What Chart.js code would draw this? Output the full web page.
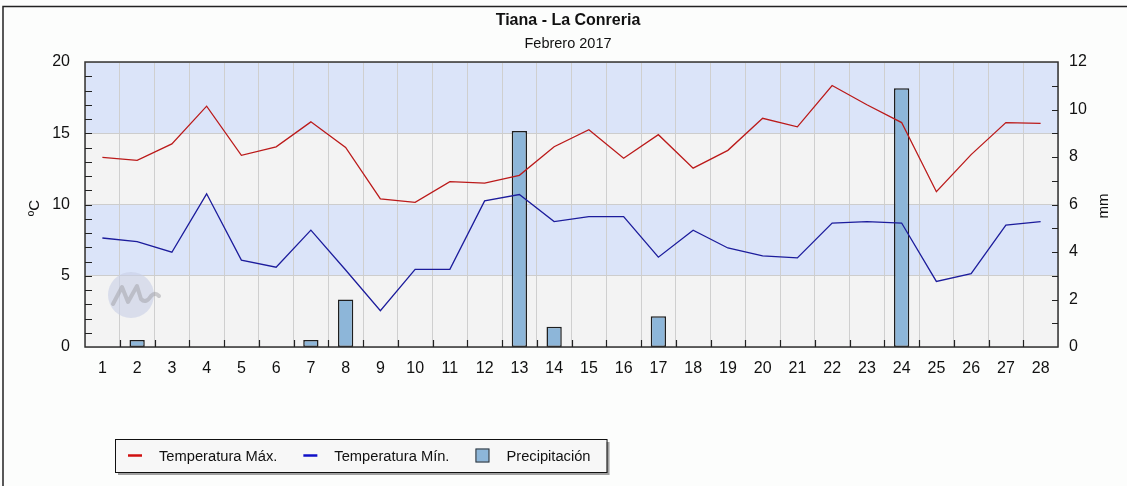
<!DOCTYPE html>
<html>
<head>
<meta charset="utf-8">
<title>Tiana - La Conreria</title>
<script src="https://cdn.jsdelivr.net/npm/chart.js@4/dist/chart.umd.min.js"></script>
<style>
	html, body { margin: 0; padding: 0; background: #fcfdfc; }
	canvas { display: block; }
</style>
</head>
<body>
<canvas id="meteo-chart" width="1127" height="486"></canvas>
<script>
const days = ['1', '2', '3', '4', '5', '6', '7', '8', '9', '10', '11', '12', '13', '14',
	'15', '16', '17', '18', '19', '20', '21', '22', '23', '24', '25', '26', '27', '28'];

const tempMax = [13.3, 13.1, 14.25, 16.9, 13.45, 14.05, 15.8, 14.0, 10.4, 10.15, 11.6, 11.5, 12.05, 14.05,
	15.25, 13.25, 14.9, 12.55, 13.8, 16.05, 15.45, 18.35, 17.0, 15.75, 10.9, 13.5, 15.75, 15.7];

const tempMin = [7.65, 7.4, 6.65, 10.75, 6.1, 5.6, 8.2, 5.4, 2.55, 5.45, 5.45, 10.25, 10.7, 8.8,
	9.15, 9.15, 6.3, 8.2, 6.95, 6.4, 6.25, 8.7, 8.8, 8.7, 4.6, 5.15, 8.55, 8.8];

// null = no rain that day
const precip = [null, 0.3, null, null, null, null, 0.3, 2.0, null, null, null, null, 9.1, 0.85,
	null, null, 1.3, null, null, null, null, null, null, 10.9, null, null, null, null];

const tempTicks = [0, 5, 10, 15, 20];
const rainTicks = [0, 2, 4, 6, 8, 10, 12];

const chartTitle = 'Tiana - La Conreria';
const chartSubtitle = 'Febrero 2017';

const FONT = '"Liberation Sans", Arial, sans-serif';
const BAND_BLUE = '#dbe4f9';
const BAND_GREY = '#f3f3f3';

const decorPlugin = {
	id: 'decor',

	beforeDraw: function (chart) {
		const ctx = chart.ctx;
		const area = chart.chartArea;
		const y = chart.scales.y;

		ctx.save();
		ctx.fillStyle = '#fcfdfc';
		ctx.fillRect(0, 0, chart.width, chart.height);

		// alternating bands between the major temperature ticks
		for (let i = 0; i < tempTicks.length - 1; i++) {
			const top = y.getPixelForValue(tempTicks[i + 1]);
			const bottom = y.getPixelForValue(tempTicks[i]);
			ctx.fillStyle = (i % 2 === 0) ? BAND_GREY : BAND_BLUE;
			ctx.fillRect(area.left, top, area.right - area.left, bottom - top);
		}
		ctx.restore();
	},

	beforeDatasetsDraw: function (chart) {
		// faint logo watermark
		const ctx = chart.ctx;
		const area = chart.chartArea;
		const cx = area.left + 46;
		const cy = chart.scales.y.getPixelForValue(3.65);

		ctx.save();
		ctx.fillStyle = 'rgba(200, 207, 230, 0.6)';
		ctx.beginPath();
		ctx.arc(cx, cy, 23, 0, Math.PI * 2);
		ctx.fill();

		ctx.strokeStyle = 'rgba(160, 160, 165, 0.5)';
		ctx.lineWidth = 4;
		ctx.lineJoin = 'round';
		ctx.lineCap = 'round';
		ctx.beginPath();
		ctx.moveTo(cx - 18, cy + 9);
		ctx.lineTo(cx - 9, cy - 8);
		ctx.lineTo(cx - 3, cy + 7);
		ctx.lineTo(cx + 6, cy - 9);
		ctx.lineTo(cx + 10, cy + 4);
		ctx.quadraticCurveTo(cx + 15, cy + 9, cx + 20, cy + 1);
		ctx.quadraticCurveTo(cx + 24, cy - 3, cx + 28, cy + 1);
		ctx.stroke();
		ctx.restore();
	},

	afterDraw: function (chart) {
		const ctx = chart.ctx;
		const area = chart.chartArea;
		const x = chart.scales.x;
		const y = chart.scales.y;
		const y1 = chart.scales.y1;

		ctx.save();

		// plot frame
		ctx.strokeStyle = '#333';
		ctx.lineWidth = 1.5;
		ctx.strokeRect(area.left, area.top, area.right - area.left, area.bottom - area.top);

		// inward tick marks
		ctx.lineWidth = 1.2;
		ctx.strokeStyle = '#222';
		ctx.beginPath();
		for (let i = 1; i < days.length; i++) {
			const px = Math.round((x.getPixelForValue(i - 1) + x.getPixelForValue(i)) / 2) + 0.5;
			ctx.moveTo(px, area.bottom);
			ctx.lineTo(px, area.bottom - 7);
		}
		for (let v = 1; v < 20; v++) {
			const py = Math.round(y.getPixelForValue(v)) + 0.5;
			ctx.moveTo(area.left, py);
			ctx.lineTo(area.left + 7, py);
		}
		for (let v = 1; v < 12; v++) {
			const py = Math.round(y1.getPixelForValue(v)) + 0.5;
			ctx.moveTo(area.right, py);
			ctx.lineTo(area.right - 6, py);
		}
		ctx.stroke();

		// axis titles
		ctx.fillStyle = '#111';
		ctx.font = '15px ' + FONT;
		ctx.textAlign = 'center';
		ctx.textBaseline = 'middle';
		ctx.save();
		ctx.translate(35, 208);
		ctx.rotate(-Math.PI / 2);
		ctx.fillText('ºC', 0, 0);
		ctx.restore();
		ctx.save();
		ctx.translate(1104, 206);
		ctx.rotate(-Math.PI / 2);
		ctx.fillText('mm', 0, 0);
		ctx.restore();

		// titles
		ctx.font = 'bold 16px ' + FONT;
		ctx.fillText(chartTitle, 568, 21);
		ctx.font = '14.5px ' + FONT;
		ctx.fillText(chartSubtitle, 568, 44);

		// outer frame (top and left edges only are visible)
		ctx.strokeStyle = '#222';
		ctx.lineWidth = 1.5;
		ctx.beginPath();
		ctx.moveTo(3, chart.height);
		ctx.lineTo(3, 6.5);
		ctx.lineTo(chart.width, 6.5);
		ctx.stroke();

		// legend
		const boxLeft = 115;
		const boxTop = 439;
		const boxHeight = 33;
		const midY = boxTop + boxHeight / 2;
		ctx.font = '14.7px ' + FONT;
		ctx.textAlign = 'left';

		let cursor = 128;
		const items = [];
		chart.data.datasets.slice().sort(function (a, b) {
			return a.legendOrder - b.legendOrder;
		}).forEach(function (ds) {
			const textX = cursor + 31;
			const w = ctx.measureText(ds.label).width;
			items.push({ds: ds, markX: cursor, textX: textX});
			cursor = textX + w + 26;
		});
		const boxRight = cursor - 10;

		ctx.fillStyle = '#a0a0a0';
		ctx.fillRect(boxLeft + 3, boxTop + 3, boxRight - boxLeft, boxHeight);
		ctx.fillStyle = '#f7f7f7';
		ctx.fillRect(boxLeft, boxTop, boxRight - boxLeft, boxHeight);
		ctx.strokeStyle = '#111';
		ctx.lineWidth = 1;
		ctx.strokeRect(boxLeft + 0.5, boxTop + 0.5, boxRight - boxLeft, boxHeight);

		items.forEach(function (it) {
			if (it.ds.type === 'line') {
				ctx.strokeStyle = it.ds.legendColor;
				ctx.lineWidth = 2.5;
				ctx.beginPath();
				ctx.moveTo(it.markX, midY);
				ctx.lineTo(it.markX + 14, midY);
				ctx.stroke();
			} else {
				ctx.fillStyle = it.ds.backgroundColor;
				ctx.fillRect(it.markX, midY - 7, 14, 14);
				ctx.strokeStyle = '#333';
				ctx.lineWidth = 1;
				ctx.strokeRect(it.markX + 0.5, midY - 6.5, 13, 13);
			}
			ctx.fillStyle = '#111';
			ctx.fillText(it.ds.label, it.textX, midY + 1);
		});

		ctx.restore();
	}
};

new Chart(document.getElementById('meteo-chart'), {
	type: 'bar',
	plugins: [decorPlugin],
	data: {
		labels: days,
		datasets: [
			{
				type: 'line',
				label: 'Temperatura Máx.',
				data: tempMax,
				yAxisID: 'y',
				borderColor: '#bb1a1a',
				legendColor: '#d01010',
				borderWidth: 1.3,
				pointRadius: 0,
				tension: 0,
				order: 1,
				legendOrder: 1,
			},
			{
				type: 'line',
				label: 'Temperatura Mín.',
				data: tempMin,
				yAxisID: 'y',
				borderColor: '#1c1c9c',
				legendColor: '#1010c8',
				borderWidth: 1.3,
				pointRadius: 0,
				tension: 0,
				order: 1,
				legendOrder: 2,
			},
			{
				type: 'bar',
				label: 'Precipitación',
				data: precip,
				yAxisID: 'y1',
				backgroundColor: '#8db6d9',
				borderColor: '#1e1e1e',
				borderWidth: 1.5,
				borderSkipped: false,
				barPercentage: 0.44,
				categoryPercentage: 1,
				order: 2,
				legendOrder: 3,
			},
		]
	},
	options: {
		responsive: false,
		animation: false,
		events: [],
		layout: {
			padding: {top: 62, bottom: 109, left: 0, right: 0},
		},
		plugins: {
			legend: {display: false},
			tooltip: {enabled: false},
		},
		scales: {
			x: {
				offset: true,
				grid: {
					offset: true,
					color: '#cfcfcf',
					lineWidth: 1,
					drawTicks: false,
				},
				border: {display: false},
				ticks: {
					color: '#111',
					padding: 12,
					maxRotation: 0,
					autoSkip: false,
					font: {family: FONT, size: 16},
				},
				afterFit: function (scale) {
					scale.height = 30;
				},
			},
			y: {
				position: 'left',
				min: 0,
				max: 20,
				afterBuildTicks: function (scale) {
					scale.ticks = tempTicks.map(function (v) {
						return {value: v};
					});
				},
				grid: {
					color: '#cdcdcd',
					drawTicks: false,
				},
				border: {display: false},
				ticks: {
					color: '#111',
					padding: 15,
					font: {family: FONT, size: 16},
				},
				afterFit: function (scale) {
					scale.width = 85;
				},
			},
			y1: {
				position: 'right',
				min: 0,
				max: 12,
				afterBuildTicks: function (scale) {
					scale.ticks = rainTicks.map(function (v) {
						return {value: v};
					});
				},
				grid: {display: false, drawTicks: false},
				border: {display: false},
				ticks: {
					color: '#111',
					padding: 11,
					font: {family: FONT, size: 16},
				},
				afterFit: function (scale) {
					scale.width = 69;
				},
			},
		},
	},
});
</script>
</body>
</html>
